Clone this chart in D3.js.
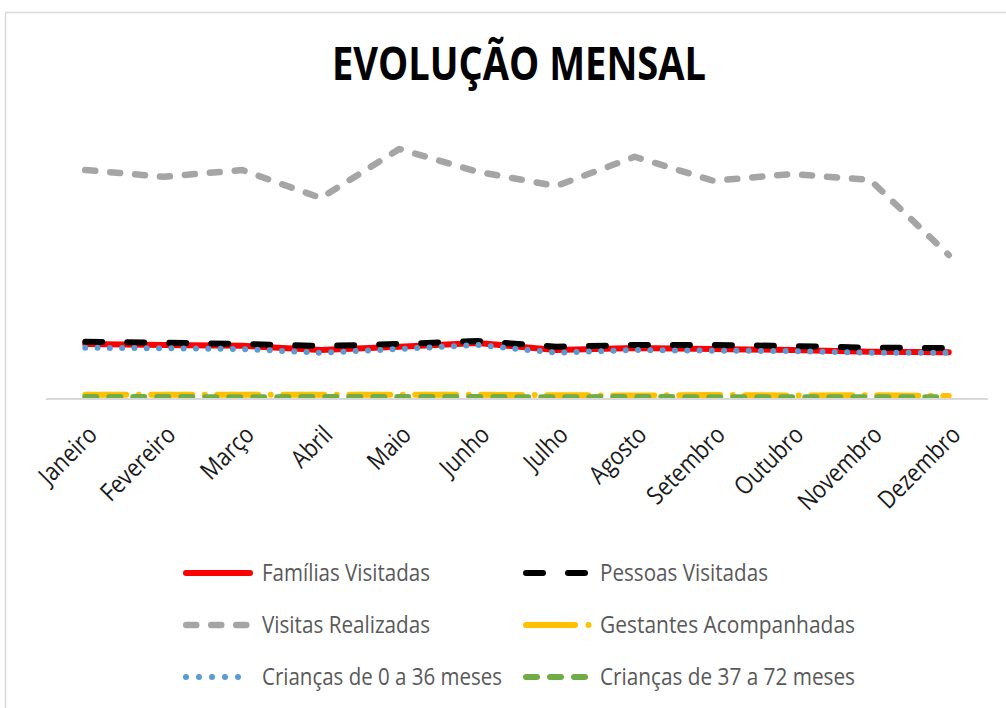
<!DOCTYPE html>
<html>
<head>
<meta charset="utf-8">
<script src="https://cdn.jsdelivr.net/npm/d3@7"></script>
<style>
  body { margin: 0; background: #fff; }
  svg { display: block; }
  .txt { font-family: "Liberation Sans Narrow", "Open Sans", sans-serif; }
</style>
</head>
<body>
<div id="chart"></div>
<script>
// months and series values
const months = ["Janeiro", "Fevereiro", "Março", "Abril", "Maio", "Junho",
                "Julho", "Agosto", "Setembro", "Outubro", "Novembro", "Dezembro"];
const familias = [220, 216, 213, 196, 209, 224, 196, 204, 200, 196, 189, 187];
const pessoas = [229, 225, 220, 212, 220, 232, 209, 216, 216, 212, 205, 204];
const visitas = [916, 889, 916, 804, 1000, 909, 852, 969, 873, 900, 876, 576];
const gestantes = [17, 17, 17, 17, 17, 17, 15, 14, 16, 14, 15, 12];
const criancas036 = [205, 203, 200, 185, 200, 216, 185, 196, 193, 192, 185, 185];
const criancas3772 = [8, 8, 7, 8, 8, 8, 7, 8, 7, 7, 7, 7];

const seriesNames = ["Famílias Visitadas", "Pessoas Visitadas", "Visitas Realizadas",
                     "Gestantes Acompanhadas", "Crianças de 0 a 36 meses", "Crianças de 37 a 72 meses"];
const seriesValues = [familias, pessoas, visitas, gestantes, criancas036, criancas3772];

// line styles per series
const styles = [
  { color: "#ff0000", width: 6, dash: null },
  { color: "#000000", width: 6, dash: "17,25" },
  { color: "#a5a5a5", width: 6.5, dash: "10,15" },
  { color: "#ffc000", width: 6, dash: "41,12.5,0,12.5" },
  { color: "#5b9bd5", width: 6, dash: "0,12.3" },
  { color: "#70ad47", width: 6, dash: "11,13" }
];

main();

function main() {
    const width = 1006, height = 708;
    const svg = d3.select("#chart").append("svg")
        .attr("width", width)
        .attr("height", height);

    // chart border
    svg.append("rect")
        .attr("x", 5.5).attr("y", 12.5)
        .attr("width", 1010).attr("height", 710)
        .attr("fill", "none")
        .attr("stroke", "#d9d9d9")
        .attr("stroke-width", 1.5);

    // title
    svg.append("text")
        .attr("class", "txt")
        .attr("x", 519).attr("y", 80)
        .attr("text-anchor", "middle")
        .attr("font-size", 47)
        .attr("font-weight", "bold")
        .attr("fill", "#000")
        .attr("textLength", 374)
        .attr("lengthAdjust", "spacingAndGlyphs")
        .text("EVOLUÇÃO MENSAL");

    // scales
    const x = d3.scaleBand().domain(months).range([46, 988]);
    const y = d3.scaleLinear().domain([0, 1100]).range([399, 124]);
    const cx = d => x(d) + x.bandwidth() / 2;

    const line = d3.line()
        .x((d, i) => cx(months[i]))
        .y(d => y(d));

    // clip at the category axis, like the plot area
    svg.append("clipPath").attr("id", "plotClip")
        .append("rect")
        .attr("x", 0).attr("y", 100)
        .attr("width", width).attr("height", y(0) - 100);

    // series lines
    const g = svg.append("g").attr("clip-path", "url(#plotClip)");
    seriesValues.forEach((vals, k) => {
        const s = styles[k];
        g.append("path")
            .datum(vals)
            .attr("d", line)
            .attr("fill", "none")
            .attr("stroke", s.color)
            .attr("stroke-width", s.width)
            .attr("stroke-linecap", "round")
            .attr("stroke-linejoin", "round")
            .attr("stroke-dasharray", s.dash);
    });

    // x axis line
    svg.append("line")
        .attr("x1", 46).attr("x2", 988)
        .attr("y1", y(0)).attr("y2", y(0))
        .attr("stroke", "#d9d9d9")
        .attr("stroke-width", 2);

    // month labels, rotated
    const labels = svg.append("g").selectAll("text")
        .data(months)
        .enter()
        .append("text")
        .attr("class", "txt")
        .attr("transform", d => "translate(" + (cx(d) + 1) + "," + 424 + ") rotate(-45)")
        .attr("text-anchor", "end")
        .attr("dy", "0.7em")
        .attr("font-size", 25)
        .attr("fill", "#1a1a1a")
        .text(d => d);
    // squeeze labels a bit (narrow font look)
    labels.each(function() {
        const len = this.getComputedTextLength();
        d3.select(this)
            .attr("textLength", len * 0.86)
            .attr("lengthAdjust", "spacingAndGlyphs");
    });

    // legend
    const legX = [183, 523];
    const legTextX = [262, 600];
    const legY = [573, 625, 677];
    const legLen = [168, 168, 168, 255, 240, 255];
    const swatchEnd = [253, 590, 250, 593, 253, 590];

    seriesNames.forEach((name, k) => {
        const col = k % 2, row = Math.floor(k / 2);
        const s = styles[k];
        const x0 = legX[col] + s.width / 2;
        const x1 = swatchEnd[k] - s.width / 2;
        svg.append("line")
            .attr("x1", x0).attr("x2", x1)
            .attr("y1", legY[row]).attr("y2", legY[row])
            .attr("stroke", s.color)
            .attr("stroke-width", s.width)
            .attr("stroke-linecap", "round")
            .attr("stroke-dasharray", k === 3 ? "49,13.5,0,100" : (k === 4 ? "0,13" : s.dash));
        svg.append("text")
            .attr("class", "txt")
            .attr("x", legTextX[col])
            .attr("y", legY[row] + 8)
            .attr("font-size", 23)
            .attr("fill", "#595959")
            .attr("textLength", legLen[k])
            .attr("lengthAdjust", "spacingAndGlyphs")
            .text(name);
    });
}
</script>
</body>
</html>
